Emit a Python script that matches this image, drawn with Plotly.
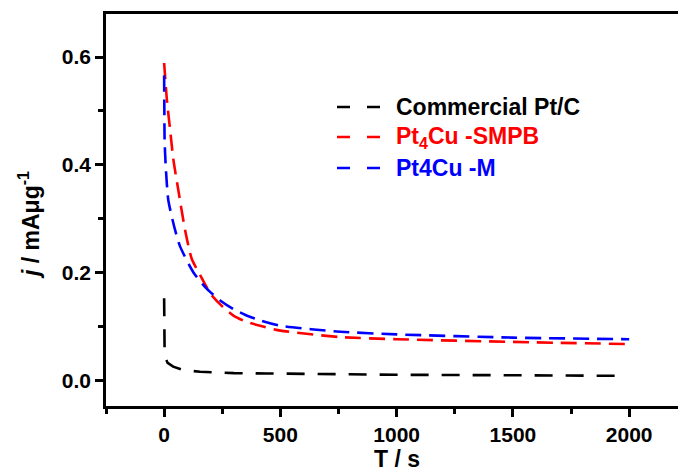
import plotly.graph_objects as go

# ---- data ----
t_ptc = [0, 0, 0, 2, 4, 15, 39, 80, 155, 300, 443, 700, 1000, 1400, 1700, 1980]
j_ptc = [0.152, 0.10, 0.074, 0.052, 0.043, 0.032, 0.025, 0.019, 0.0155, 0.013,
         0.0124, 0.011, 0.010, 0.0093, 0.0088, 0.008]

t_smpb = [0, 12, 26, 40, 61, 90, 119, 155, 200, 250, 298, 350, 413, 500, 757, 1000, 1500, 2000]
j_smpb = [0.589, 0.520, 0.464, 0.409, 0.353, 0.279, 0.225, 0.195, 0.160, 0.137,
          0.120, 0.109, 0.101, 0.092, 0.080, 0.076, 0.071, 0.067]

t_m = [0, 1, 2, 7, 18, 47, 69, 126, 183, 241, 298, 350, 413, 500, 757, 1000, 1500, 2000]
j_m = [0.566, 0.500, 0.446, 0.396, 0.334, 0.279, 0.248, 0.200, 0.170, 0.148,
       0.132, 0.121, 0.111, 0.101, 0.090, 0.085, 0.079, 0.076]

names = ["Commercial Pt/C", "Pt<sub>4</sub>Cu -SMPB", "Pt4Cu -M"]
colors = ["#000000", "#ff0000", "#0000ff"]
dashes = ["18px,13px", "16px,8px", "16px,8px"]
shapes_ = ["linear", "spline", "spline"]
series = [(t_ptc, j_ptc), (t_smpb, j_smpb), (t_m, j_m)]

x_ticks = [0, 500, 1000, 1500, 2000]
x_labels = ["0", "500", "1000", "1500", "2000"]
y_ticks = [0.0, 0.2, 0.4, 0.6]
y_labels = ["0.0", "0.2", "0.4", "0.6"]

W, H = 678, 472
L, R, T, B = 106, 0, 14, 66
FONT = "Liberation Sans"

fig = go.Figure()
for (t, j), nm, c, d, s in zip(series, names, colors, dashes, shapes_):
    fig.add_trace(go.Scatter(x=t, y=j, mode="lines", name=nm,
                             line=dict(color=c, width=2.6, dash=d, shape=s, smoothing=0.6),
                             showlegend=False))

def px_x(p):
    return (p - L) / (W - L - R)

def px_y(p):
    return (H - B - p) / (H - T - B)

# custom legend (line samples + coloured labels)
leg_rows = [107, 137, 168]
for nm, c, row in zip(names, colors, leg_rows):
    fig.add_shape(type="line", xref="paper", yref="paper",
                  x0=px_x(337), x1=px_x(382), y0=px_y(row), y1=px_y(row),
                  line=dict(color=c, width=2.6, dash="13px,17px"))
    fig.add_annotation(xref="paper", yref="paper", x=px_x(394), y=px_y(row),
                       xanchor="left", yanchor="middle", showarrow=False,
                       text="<b>" + nm + "</b>", font=dict(family=FONT, size=23, color=c))

# axis titles
fig.add_annotation(xref="x", yref="paper", x=1000, y=px_y(459),
                   xanchor="center", yanchor="middle", showarrow=False,
                   text="<b>T / s</b>", font=dict(family=FONT, size=23, color="black"))
fig.add_annotation(xref="paper", yref="paper", x=px_x(29), y=px_y(225),
                   xanchor="center", yanchor="middle", showarrow=False, textangle=-90,
                   text="<b><i>j</i> / mAμg<sup>-1</sup></b>",
                   font=dict(family=FONT, size=23, color="black"))

tickfont = dict(family=FONT, size=21, color="black")
fig.update_layout(
    width=W, height=H, autosize=False,
    margin=dict(l=L, r=R, t=T, b=B, pad=0),
    paper_bgcolor="white", plot_bgcolor="white",
    xaxis=dict(range=[-250, 2210], tickvals=x_ticks,
               ticktext=["<b>%s</b>" % s for s in x_labels],
               ticks="outside", ticklen=8,
               tickwidth=2.5, tickcolor="black", showline=True, linewidth=2.6,
               linecolor="black", mirror=True, showgrid=False, zeroline=False,
               tickfont=tickfont,
               minor=dict(dtick=250, tick0=0, ticks="outside", ticklen=5,
                          tickwidth=2.5, tickcolor="black", showgrid=False)),
    yaxis=dict(range=[-0.048, 0.68], tickvals=y_ticks,
               ticktext=["<b>%s</b>" % s for s in y_labels],
               ticks="outside", ticklen=8, tickwidth=2.5, tickcolor="black",
               showline=True, linewidth=2.6, linecolor="black", mirror=False,
               showgrid=False, zeroline=False,
               tickfont=tickfont,
               minor=dict(dtick=0.1, tick0=0, ticks="outside", ticklen=5,
                          tickwidth=2.5, tickcolor="black", showgrid=False)),
)

fig.write_html("out.html")
